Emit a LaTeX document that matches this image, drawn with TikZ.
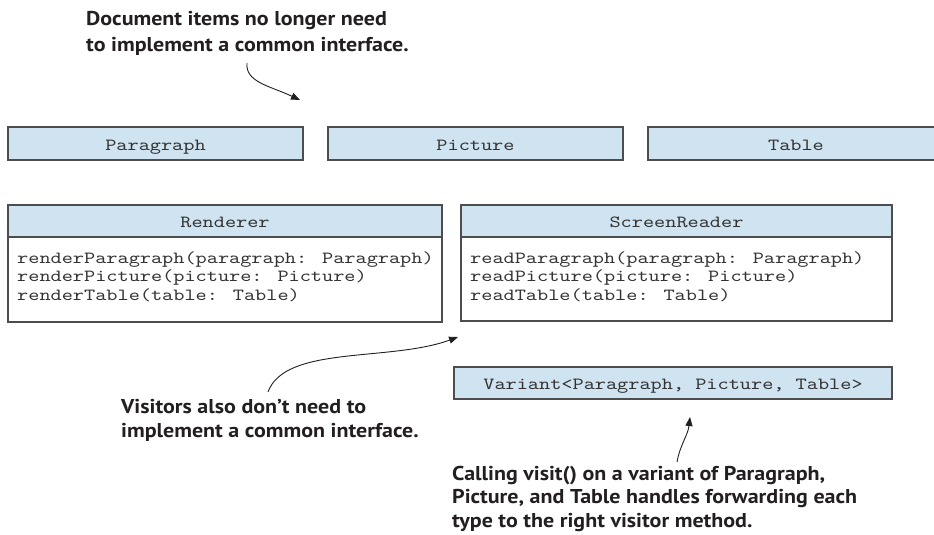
\documentclass[tikz,border=0pt]{standalone}
\usepackage{fontspec}
\newfontfamily\notefont[FakeStretch=1.1]{PT Sans}
\newfontfamily\codefont[FakeStretch=1.25]{lmmono10-regular.otf}
\usetikzlibrary{arrows.meta}
\definecolor{boxfill}{HTML}{CFE3F0}
\definecolor{boxline}{HTML}{4D4D4D}
\definecolor{notecol}{HTML}{231F20}
\tikzset{
  box/.style={draw=boxline, line width=1.2pt},
  typebox/.style={box, fill=boxfill},
  code/.style={font=\fontsize{17}{17}\selectfont\codefont, text=black!80, inner sep=0pt, anchor=base},
  member/.style={code, anchor=base west},
  note/.style={font=\fontsize{20}{24}\selectfont\notefont\bfseries, text=notecol, align=left, inner sep=0pt, anchor=north west},
  callout/.style={draw=notecol, line width=0.9pt, -{Triangle[length=9pt,width=7pt]}}
}
\begin{document}
\begin{tikzpicture}[x=1pt,y=-1pt]
\useasboundingbox (0,0) rectangle (934,535);

% document item types
\draw[typebox] (8,127) rectangle (303,160);
\node[code] (para) at (155.5,150.5) {Paragraph};
\draw[typebox] (328,127) rectangle (623,160);
\node[code] (pic) at (475.5,150.5) {Picture};
\draw[typebox] (648,127) rectangle (945,160);
\node[code] (tab) at (796,150.5) {Table};

% Renderer visitor
\fill[boxfill] (8,205) rectangle (442,237);
\draw[box] (8,205) rectangle (442,322);
\draw[box] (8,237) -- (442,237);
\node[code] (rend) at (225,227) {Renderer};
\node[member] (r1) at (17,263) {renderParagraph(paragraph: Paragraph)};
\node[member] (r2) at (17,281.5) {renderPicture(picture: Picture)};
\node[member] (r3) at (17,300) {renderTable(table: Table)};

% ScreenReader visitor
\fill[boxfill] (461,205) rectangle (892,237);
\draw[box] (461,205) rectangle (892,321);
\draw[box] (461,237) -- (892,237);
\node[code] (scr) at (676.5,227) {ScreenReader};
\node[member] (s1) at (470,263) {readParagraph(paragraph: Paragraph)};
\node[member] (s2) at (470,281.5) {readPicture(picture: Picture)};
\node[member] (s3) at (470,300) {readTable(table: Table)};

% variant type
\draw[typebox] (454,367) rectangle (892,399);
\node[code] (var) at (673,389) {Variant<Paragraph, Picture, Table>};

% annotations
\node[note, font=\fontsize{20}{26}\selectfont\notefont\bfseries] (n1) at (86,11) {Document items no longer need\\to implement a common interface.};
\node[note] (n2) at (121,399) {Visitors also don’t need to\\implement a common interface.};
\node[note, font=\fontsize{20}{23.5}\selectfont\notefont\bfseries] (n3) at (452,466) {Calling visit() on a variant of Paragraph,\\Picture, and Table handles forwarding each\\type to the right visitor method.};

\coordinate (t1) at (300,100);
\coordinate (t2) at (458,337);
\coordinate (t3) at (690,417);

\draw[callout] (247,63) .. controls (245,82) and (270,86) .. (t1);
\draw[callout] (268,392) .. controls (285,345) and (390,362) .. (t2);
\draw[callout] (677,462) .. controls (680,445) and (688,435) .. (t3);
\end{tikzpicture}
\end{document}
